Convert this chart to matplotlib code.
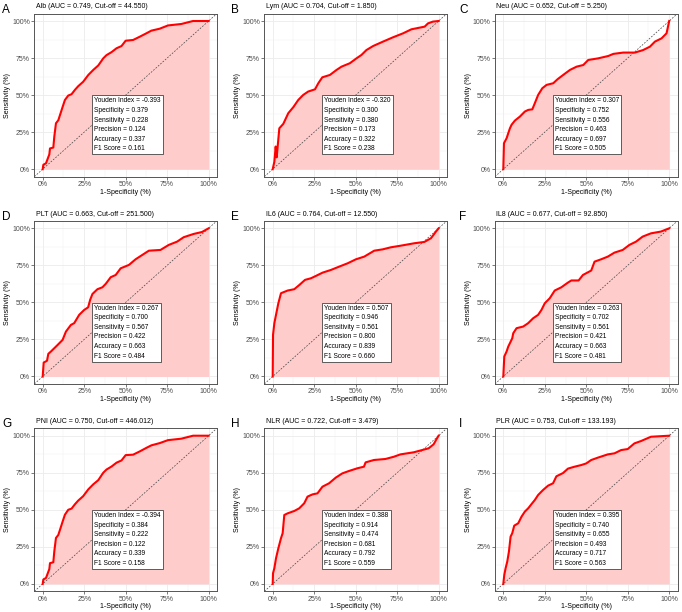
import matplotlib
matplotlib.use("Agg")
import matplotlib.pyplot as plt
import numpy as np

plt.rcParams['font.family'] = ['Liberation Sans', 'DejaVu Sans']

letters = ["A", "B", "C", "D", "E", "F", "G", "H", "I"]
markers = ["Alb", "Lym", "Neu", "PLT", "IL6", "IL8", "PNI", "NLR", "PLR"]
auc = ["0.749", "0.704", "0.652", "0.663", "0.764", "0.677", "0.750", "0.722", "0.753"]
cutoff = ["44.550", "1.850", "5.250", "251.500", "12.550", "92.850", "446.012", "3.479", "133.193"]

youden = ["-0.393", "-0.320", "0.307", "0.267", "0.507", "0.263", "-0.394", "0.388", "0.395"]
specificity = ["0.379", "0.300", "0.752", "0.700", "0.946", "0.702", "0.384", "0.914", "0.740"]
sensitivity = ["0.228", "0.380", "0.556", "0.567", "0.561", "0.561", "0.222", "0.474", "0.655"]
precision = ["0.124", "0.173", "0.463", "0.422", "0.800", "0.421", "0.122", "0.681", "0.493"]
accuracy = ["0.337", "0.322", "0.697", "0.663", "0.839", "0.663", "0.339", "0.792", "0.717"]
f1score = ["0.161", "0.238", "0.505", "0.484", "0.660", "0.481", "0.158", "0.559", "0.563"]

# ROC curves: 1-specificity (fpr) and sensitivity (tpr)
fpr_alb = [0, 0.004, 0.02, 0.03, 0.04, 0.044, 0.064, 0.07, 0.08, 0.094, 0.108, 0.12, 0.134, 0.154, 0.174, 0.194, 0.214, 0.244, 0.275, 0.305, 0.335, 0.365, 0.385, 0.415, 0.445, 0.475, 0.5, 0.545, 0.585, 0.625, 0.655, 0.705, 0.755, 0.836, 0.906, 1.0]
tpr_alb = [0, 0.03, 0.04, 0.07, 0.10, 0.14, 0.146, 0.22, 0.31, 0.33, 0.378, 0.42, 0.467, 0.497, 0.506, 0.535, 0.56, 0.59, 0.636, 0.67, 0.70, 0.748, 0.77, 0.79, 0.816, 0.831, 0.867, 0.872, 0.894, 0.917, 0.935, 0.948, 0.97, 0.98, 1.0, 1.0]

fpr_lym = [0, 0.01, 0.018, 0.024, 0.04, 0.064, 0.094, 0.124, 0.154, 0.184, 0.214, 0.255, 0.275, 0.299, 0.345, 0.385, 0.415, 0.465, 0.505, 0.535, 0.565, 0.605, 0.665, 0.725, 0.786, 0.836, 0.916, 0.936, 0.966, 1.0]
tpr_lym = [0, 0.05, 0.153, 0.08, 0.276, 0.306, 0.378, 0.418, 0.467, 0.501, 0.524, 0.539, 0.58, 0.62, 0.636, 0.67, 0.692, 0.715, 0.748, 0.771, 0.804, 0.831, 0.861, 0.89, 0.917, 0.944, 0.962, 0.984, 0.996, 1.0]

fpr_neu = [0, 0.004, 0.02, 0.03, 0.04, 0.05, 0.07, 0.1, 0.13, 0.15, 0.175, 0.19, 0.21, 0.235, 0.261, 0.301, 0.327, 0.361, 0.402, 0.442, 0.482, 0.512, 0.572, 0.633, 0.663, 0.723, 0.793, 0.843, 0.884, 0.914, 0.954, 0.984, 1.0]
tpr_neu = [0, 0.175, 0.209, 0.243, 0.276, 0.30, 0.328, 0.355, 0.389, 0.40, 0.404, 0.445, 0.501, 0.546, 0.569, 0.58, 0.607, 0.636, 0.67, 0.692, 0.703, 0.737, 0.748, 0.764, 0.778, 0.787, 0.787, 0.804, 0.827, 0.861, 0.883, 0.917, 1.0]

fpr_plt = [0, 0.006, 0.026, 0.034, 0.05, 0.07, 0.09, 0.12, 0.14, 0.17, 0.19, 0.22, 0.25, 0.274, 0.286, 0.30, 0.33, 0.36, 0.38, 0.41, 0.44, 0.47, 0.52, 0.56, 0.60, 0.64, 0.71, 0.76, 0.81, 0.85, 0.91, 0.96, 1.0]
tpr_plt = [0, 0.094, 0.106, 0.153, 0.169, 0.191, 0.213, 0.247, 0.303, 0.348, 0.36, 0.416, 0.449, 0.467, 0.517, 0.557, 0.589, 0.602, 0.625, 0.67, 0.685, 0.73, 0.753, 0.791, 0.82, 0.849, 0.854, 0.888, 0.91, 0.94, 0.962, 0.975, 1.0]

fpr_il6 = [0, 0.002, 0.01, 0.02, 0.034, 0.05, 0.09, 0.13, 0.161, 0.195, 0.231, 0.261, 0.301, 0.351, 0.402, 0.452, 0.502, 0.552, 0.612, 0.663, 0.713, 0.773, 0.853, 0.914, 0.954, 0.984, 1.0]
tpr_il6 = [0, 0.281, 0.36, 0.416, 0.494, 0.562, 0.58, 0.589, 0.618, 0.652, 0.663, 0.679, 0.701, 0.719, 0.742, 0.764, 0.791, 0.809, 0.849, 0.858, 0.872, 0.883, 0.899, 0.908, 0.933, 0.978, 1.0]

fpr_il8 = [0, 0.006, 0.02, 0.03, 0.04, 0.054, 0.06, 0.08, 0.12, 0.15, 0.18, 0.21, 0.23, 0.25, 0.28, 0.31, 0.35, 0.39, 0.41, 0.454, 0.48, 0.53, 0.55, 0.59, 0.63, 0.67, 0.72, 0.76, 0.80, 0.84, 0.89, 0.95, 1.0]
tpr_il8 = [0, 0.135, 0.169, 0.202, 0.225, 0.258, 0.292, 0.326, 0.337, 0.36, 0.393, 0.416, 0.449, 0.494, 0.528, 0.58, 0.602, 0.634, 0.648, 0.648, 0.685, 0.715, 0.775, 0.791, 0.809, 0.836, 0.854, 0.888, 0.91, 0.944, 0.966, 0.978, 1.0]

fpr_pni = [0, 0.004, 0.02, 0.03, 0.04, 0.044, 0.064, 0.07, 0.08, 0.094, 0.108, 0.12, 0.134, 0.154, 0.174, 0.194, 0.214, 0.244, 0.275, 0.305, 0.335, 0.365, 0.385, 0.415, 0.445, 0.475, 0.5, 0.545, 0.585, 0.625, 0.655, 0.705, 0.755, 0.836, 0.906, 1.0]
tpr_pni = [0, 0.03, 0.04, 0.07, 0.10, 0.14, 0.146, 0.22, 0.31, 0.33, 0.378, 0.42, 0.467, 0.50, 0.508, 0.537, 0.562, 0.592, 0.638, 0.672, 0.70, 0.75, 0.772, 0.792, 0.818, 0.833, 0.869, 0.872, 0.894, 0.918, 0.935, 0.95, 0.97, 0.98, 1.0, 1.0]

fpr_nlr = [0, 0.002, 0.01, 0.02, 0.034, 0.05, 0.06, 0.07, 0.09, 0.13, 0.16, 0.19, 0.21, 0.24, 0.27, 0.30, 0.34, 0.38, 0.42, 0.46, 0.51, 0.55, 0.56, 0.61, 0.68, 0.73, 0.77, 0.85, 0.90, 0.94, 0.97, 0.99, 1.0]
tpr_nlr = [0, 0.072, 0.106, 0.173, 0.24, 0.308, 0.342, 0.465, 0.476, 0.492, 0.51, 0.544, 0.589, 0.604, 0.611, 0.656, 0.679, 0.717, 0.746, 0.762, 0.78, 0.791, 0.82, 0.836, 0.843, 0.858, 0.874, 0.888, 0.903, 0.915, 0.942, 0.982, 1.0]

fpr_plr = [0, 0.006, 0.014, 0.024, 0.034, 0.044, 0.054, 0.066, 0.09, 0.11, 0.13, 0.15, 0.174, 0.19, 0.21, 0.24, 0.27, 0.30, 0.32, 0.36, 0.39, 0.43, 0.47, 0.50, 0.53, 0.57, 0.63, 0.67, 0.71, 0.75, 0.79, 0.83, 0.89, 1.0]
tpr_plr = [0, 0.061, 0.106, 0.151, 0.218, 0.319, 0.342, 0.393, 0.409, 0.454, 0.488, 0.51, 0.544, 0.566, 0.60, 0.634, 0.663, 0.679, 0.726, 0.748, 0.778, 0.791, 0.802, 0.813, 0.836, 0.852, 0.874, 0.881, 0.903, 0.91, 0.948, 0.964, 0.993, 1.0]

fprs = [fpr_alb, fpr_lym, fpr_neu, fpr_plt, fpr_il6, fpr_il8, fpr_pni, fpr_nlr, fpr_plr]
tprs = [tpr_alb, tpr_lym, tpr_neu, tpr_plt, tpr_il6, tpr_il8, tpr_pni, tpr_nlr, tpr_plr]

W, H = 682, 612
fig = plt.figure(figsize=(W / 100, H / 100), dpi=100)

col_left = [34.4, 264.4, 495.0]
col_start = [2, 231, 459]
row_top = [13.6, 220.9, 428.3]
aw, ah = 182.5, 163.0

for i in range(9):
    r, c = divmod(i, 3)
    left = col_left[c]
    top = row_top[r]
    ax = fig.add_axes([left / W, 1 - (top + ah) / H, aw / W, ah / H])
    ax.set_xlim(-0.05, 1.05)
    ax.set_ylim(-0.05, 1.05)
    ticks = [0, 0.25, 0.5, 0.75, 1.0]
    ax.set_xticks(ticks)
    ax.set_yticks(ticks)
    ax.set_xticks([0.125, 0.375, 0.625, 0.875], minor=True)
    ax.set_yticks([0.125, 0.375, 0.625, 0.875], minor=True)
    ax.set_xticklabels(["0%", "25%", "50%", "75%", "100%"])
    ax.set_yticklabels(["0%", "25%", "50%", "75%", "100%"])
    ax.grid(True, which='major', color='#ebebeb', lw=0.6)
    ax.grid(True, which='minor', color='#f2f2f2', lw=0.35)
    ax.set_axisbelow(True)
    ax.tick_params(which='major', length=2.2, width=0.5, color='#444444',
                   labelsize=5, labelcolor='#4d4d4d', pad=1.0)
    ax.tick_params(which='minor', length=0)
    for s in ax.spines.values():
        s.set_color('#555555')
        s.set_linewidth(0.7)

    x = np.array(fprs[i])
    y = np.array(tprs[i])
    ax.fill_between(x, y, 0, color='#ffcccc', lw=0, zorder=1)
    ax.plot([-0.05, 1.05], [-0.05, 1.05], ls=(0, (2.5, 2)), color='#444444', lw=0.5, zorder=2)
    ax.plot(x, y, color='#ff0000', lw=1.5, zorder=3, solid_joinstyle='round')

    txt = "\n".join([
        f"Youden Index = {youden[i]}",
        f"Specificity = {specificity[i]}",
        f"Sensitivity = {sensitivity[i]}",
        f"Precision = {precision[i]}",
        f"Accuracy = {accuracy[i]}",
        f"F1 Score = {f1score[i]}",
    ])
    ax.annotate(txt, xy=(0.3, 0.5), xycoords='data', xytext=(1.4, -1.6),
                textcoords='offset points', ha='left', va='top', fontsize=4.8,
                linespacing=1.52, zorder=5,
                bbox=dict(boxstyle='square,pad=0.3', fc='white', ec='#444444', lw=0.6))

    ax.set_xlabel("1-Specificity (%)", fontsize=5, labelpad=0.5)
    ax.set_ylabel("Sensitivity (%)", fontsize=5, labelpad=0.5)

    # title and panel letter
    fig.text((left + 1.5) / W, 1 - (top - 6.8) / H,
             f"{markers[i]} (AUC = {auc[i]}, Cut-off = {cutoff[i]})",
             fontsize=5, ha='left', va='center')
    fig.text(col_start[c] / W, 1 - (top - 1.0) / H, letters[i],
             fontsize=8.5, ha='left', va='baseline')

fig.savefig("out.png", dpi=100)
